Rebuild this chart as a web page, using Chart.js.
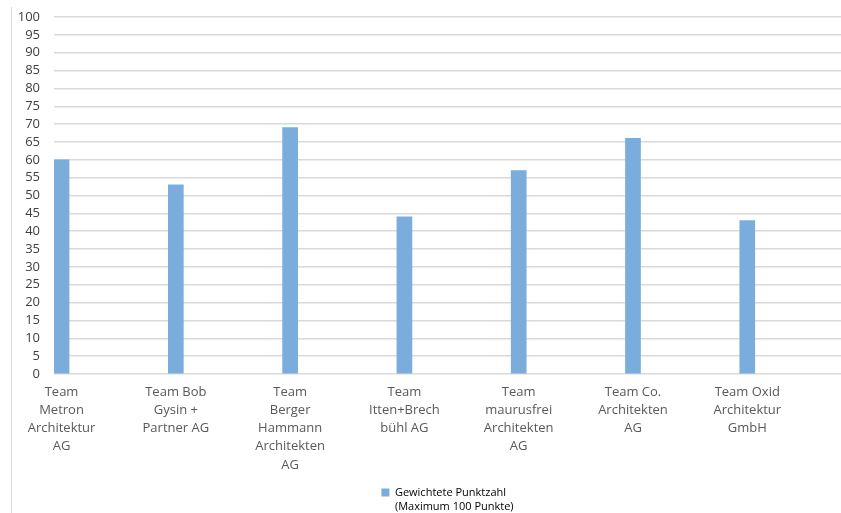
<!DOCTYPE html>
<html>
<head>
<meta charset="utf-8">
<script src="https://cdn.jsdelivr.net/npm/chart.js@4/dist/chart.umd.min.js"></script>
<style>
  html, body { margin: 0; padding: 0; background: #fff; }
  #frame { position: absolute; left: 11px; top: 7px; width: 1px; height: 506px; background: #d9d9d9; }
  #wrap { position: absolute; left: 0; top: 0; width: 841px; height: 513px; }
</style>
</head>
<body>
<div id="frame"></div>
<div id="wrap"><canvas id="scoreChart" width="841" height="513"></canvas></div>
<script>
// Teams (Beschriftung der x-Achse, zeilenweise)
const teams = [
    ["Team", "Metron", "Architektur", "AG"],
    ["Team Bob", "Gysin +", "Partner AG"],
    ["Team", "Berger", "Hammann", "Architekten", "AG"],
    ["Team", "Itten+Brech", "bühl AG"],
    ["Team", "maurusfrei", "Architekten", "AG"],
    ["Team Co.", "Architekten", "AG"],
    ["Team Oxid", "Architektur", "GmbH"]
];

// Gewichtete Punktzahl pro Team
const scores = [60, 53, 69, 44, 57, 66, 43];

const seriesLabel = ["Gewichtete Punktzahl", "(Maximum 100 Punkte)"];

const barColor = "#7aaddb";
const gridColor = "#d9d9d9";

// Legende mit zweizeiligem Text: Breite nach der längsten Zeile, Box bis zum unteren Rand
const legendFix = {
    id: 'legendFix',
    beforeDraw: function(chart) {
        const legend = chart.legend;
        if (!legend || !legend.lineWidths) return;
        const opts = legend.options.labels;
        const c = chart.ctx;
        c.save();
        c.font = opts.font.size + 'px "' + opts.font.family + '"';
        const w = Math.max(...seriesLabel.map(s => c.measureText(s).width));
        c.restore();
        legend.lineWidths[0] = opts.boxWidth + opts.font.size / 2 + w + opts.padding;
        legend.bottom = chart.height;
    }
};

const ctx = document.getElementById("scoreChart").getContext("2d");
const chart = new Chart(ctx, {
    type: 'bar',
    data: {
        datasets: [{
            label: seriesLabel,
            data: scores.map((v, i) => ({ x: i, y: v })),
            backgroundColor: barColor,
            borderWidth: 0,
            barThickness: 15
        }]
    },
    plugins: [legendFix],
    options: {
        responsive: false,
        animation: false,
        layout: { padding: { top: 17, right: 0, bottom: 5, left: 0 } },
        plugins: {
            tooltip: { enabled: false },
            legend: {
                position: 'bottom',
                fullSize: false,
                labels: {
                    boxWidth: 8,
                    boxHeight: 8,
                    padding: 10,
                    color: '#595959',
                    font: { family: 'Open Sans', size: 11, lineHeight: 1.3 },
                    generateLabels: function() {
                        return [{
                            text: seriesLabel,
                            fillStyle: barColor,
                            strokeStyle: barColor,
                            lineWidth: 0,
                            datasetIndex: 0
                        }];
                    }
                }
            }
        },
        scales: {
            x: {
                type: 'linear',
                offset: false,
                min: -0.066,
                max: 6.82,
                afterBuildTicks: function(axis) {
                    axis.ticks = teams.map((t, i) => ({ value: i }));
                },
                afterFit: function(axis) {
                    axis.height = 103;
                    axis.paddingLeft = 0;
                    axis.paddingRight = 0;
                },
                ticks: {
                    autoSkip: false,
                    maxRotation: 0,
                    padding: 1,
                    color: '#595959',
                    font: { family: 'Open Sans', size: 13, lineHeight: 1.4 },
                    callback: function(value) {
                        return teams[value] || '';
                    }
                },
                grid: { display: false },
                border: { display: false }
            },
            y: {
                min: 0,
                max: 100,
                afterFit: function(axis) {
                    axis.width = 54;
                    axis.paddingTop = 0;
                    axis.paddingBottom = 0;
                },
                ticks: {
                    stepSize: 5,
                    autoSkip: false,
                    padding: 14,
                    color: '#404040',
                    font: { family: 'Open Sans', size: 13 }
                },
                grid: { color: gridColor, lineWidth: 1.5, drawTicks: false },
                border: { display: false }
            }
        }
    }
});
</script>
</body>
</html>
